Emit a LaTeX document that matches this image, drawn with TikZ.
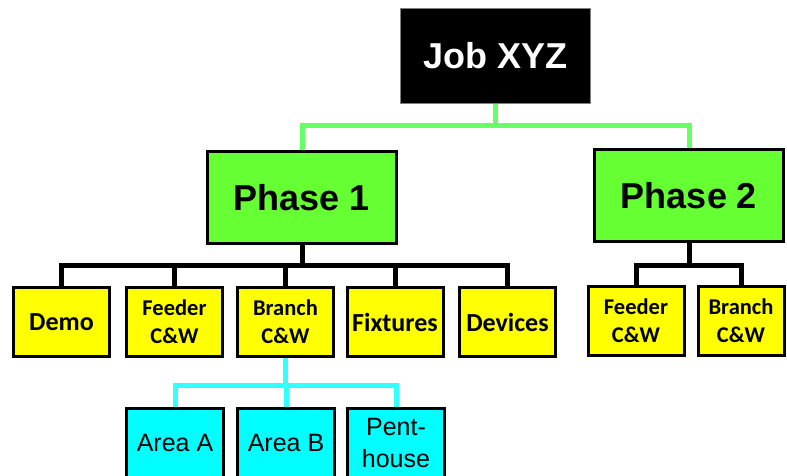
\documentclass[tikz,border=0pt]{standalone}
\usepackage{fontspec}
\newfontfamily\arialfont{Liberation Sans}
\newfontfamily\calibrifont{Carlito}
\definecolor{phasegreen}{HTML}{66FF33}
\definecolor{linkgreen}{HTML}{66FF66}
\definecolor{taskyellow}{HTML}{FFFF00}
\definecolor{areacyan}{HTML}{00FFFF}
\definecolor{linkcyan}{HTML}{33FFFF}
\tikzset{
  jobbox/.style={draw=gray, line width=1pt, fill=black, text=white, inner sep=0pt,
    minimum width=190pt, minimum height=95pt, font=\arialfont\bfseries\fontsize{36}{40}\selectfont},
  phasebox/.style={draw=black, line width=3pt, fill=phasegreen, inner sep=0pt,
    minimum width=189pt, minimum height=92pt, font=\arialfont\bfseries\fontsize{36}{40}\selectfont},
  taskbox/.style={draw=black, line width=3pt, fill=taskyellow, inner sep=0pt, align=center,
    minimum width=96pt, minimum height=69pt, font=\calibrifont\bfseries\fontsize{22.5}{28}\selectfont},
  bigtask/.style={taskbox, font=\calibrifont\bfseries\fontsize{26}{30}\selectfont},
  areabox/.style={draw=black, line width=3pt, fill=areacyan, inner sep=0pt, align=center,
    minimum width=97pt, minimum height=69pt, font=\arialfont\fontsize{25}{32}\selectfont},
  greenlink/.style={draw=linkgreen, line width=5pt},
  blacklink/.style={draw=black, line width=5pt},
  cyanlink/.style={draw=linkcyan, line width=5pt}
}
\begin{document}
\begin{tikzpicture}[x=1pt,y=-1pt]
        \useasboundingbox (0,0) rectangle (787,475);

        % top
        \node[jobbox] (job) at (495.5,56) {Job XYZ};
        \node[phasebox] (ph1) at (302,197.5) {Phase 1};
        \node[phasebox] (ph2) at (689,195.5) {Phase 2};

        % phase 1 tasks
        \node[bigtask] (demo) at (61.5,322) {Demo};
        \node[taskbox] (feed1) at (174.5,322) {Feeder\\C\&W};
        \node[taskbox] (branch1) at (285.5,322) {Branch\\C\&W};
        \node[bigtask] (fix) at (395,322) {Fixtures};
        \node[bigtask] (dev) at (507.5,322) {Devices};

        % phase 2 tasks
        \node[taskbox] (feed2) at (636,321) {Feeder\\C\&W};
        \node[taskbox, minimum width=86pt] (branch2) at (741,321) {Branch\\C\&W};

        % areas
        \node[areabox] (areaA) at (175,443) {Area A};
        \node[areabox] (areaB) at (286,443) {Area B};
        \node[areabox] (pent) at (396,443) {Pent-\\house};

        % links
        \coordinate (jobbus) at (495.5,125);
        \coordinate (p1bus) at (302,265);
        \coordinate (p2bus) at (689,265);
        \coordinate (brbus) at (285.5,385);

        \draw[greenlink] (job.south) -- (jobbus);
        \draw[greenlink] (ph1.north) |- (jobbus) -| (ph2.north);

        \draw[blacklink] (ph1.south) -- (p1bus);
        \draw[blacklink] (demo.north) |- (p1bus) -| (dev.north);
        \draw[blacklink] (feed1.north) -- (feed1.north |- p1bus);
        \draw[blacklink] (branch1.north) -- (branch1.north |- p1bus);
        \draw[blacklink] (fix.north) -- (fix.north |- p1bus);

        \draw[blacklink] (ph2.south) -- (p2bus);
        \draw[blacklink] (feed2.north) |- (p2bus) -| (branch2.north);

        \draw[cyanlink] (branch1.south) -- (brbus);
        \draw[cyanlink] (areaA.north) |- (brbus) -| (pent.north);
        \draw[cyanlink] (areaB.north) -- (areaB.north |- brbus);
\end{tikzpicture}
\end{document}
